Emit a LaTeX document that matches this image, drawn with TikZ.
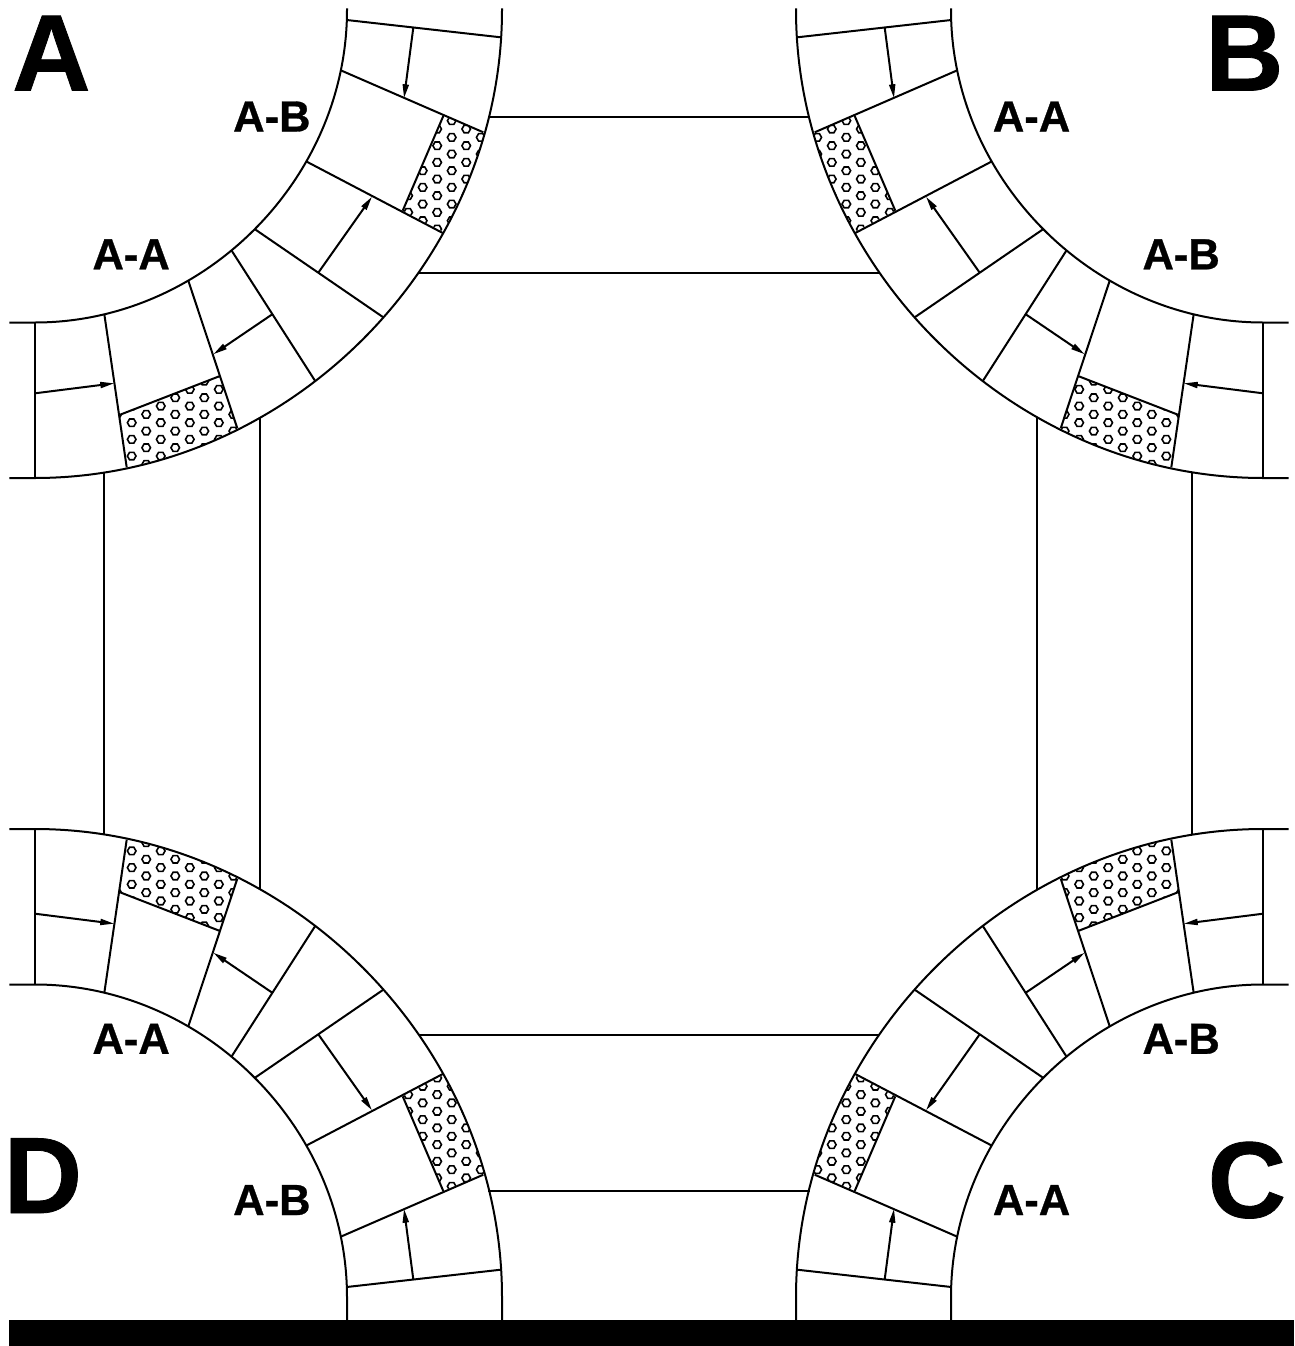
\documentclass[tikz,border=0pt]{standalone}
\usepackage{fontspec}
\setmainfont{Liberation Sans}
\newfontfamily\lblfont[BoldFeatures={FakeBold=0.7}]{Liberation Sans}
\usetikzlibrary{arrows.meta}
\tikzset{
  wire/.style={line width=2pt,line cap=butt,line join=miter},
  hexline/.style={line width=1.6pt,line join=miter},
  pointer/.style={wire,-{Triangle[length=14pt,width=6pt]}},
  biglabel/.style={font=\lblfont\bfseries\fontsize{108.5}{108.5}\selectfont,inner sep=0pt,anchor=base west},
  smalllabel/.style={font=\lblfont\bfseries\fontsize{43.5}{43.5}\selectfont,inner sep=0pt,anchor=base west}
}
% hexagon lattice: #1,#2 = anchor, #3,#4 = ranges of column and row
\newcommand{\hexfield}[4]{%
  \foreach \i in {#3}{\foreach \j in {#4}{%
    \pgfmathsetmacro{\hx}{#1+\i*14.52}%
    \pgfmathsetmacro{\hy}{#2+\j*16.67+(mod(abs(\i),2)==1?8.33:0)}%
    \draw[hexline,shift={(\hx,\hy)}] (4.3,0)--(2.15,3.72)--(-2.15,3.72)--(-4.3,0)--(-2.15,-3.72)--(2.15,-3.72)--cycle;
  }}}
% one corner, drawn as corner A; #1 = transform, #2 = y where the arcs end above the centre
\newcommand{\cornerpiece}[2]{%
\begin{scope}[#1]
  % hatched blocks
  \begin{scope}
    \clip (35,10)--(502,10) .. controls (502,263.2) and (287.6,478) .. (35,478)--cycle;
    \begin{scope}
      \clip (443.3,116)--(523.3,149.6)--(523.3,274)--(402.7,210.7)--cycle;
      \hexfield{451.7}{120.7}{-5,...,4}{-1,...,8}
    \end{scope}
    \begin{scope}
      \clip (220,376)--(119.3,415)--(132,510)--(250,470)--cycle;
      \hexfield{131.7}{422.7}{-1,...,8}{-4,...,3}
    \end{scope}
  \end{scope}
  % arcs
  \draw[wire] (502,#2)--(502,10) .. controls (502,263.2) and (287.6,478) .. (35,478)--(9.3,478);
  \draw[wire] (347,#2)--(347,10) .. controls (347,179) and (203.8,322.5) .. (35,322.5)--(9.3,322.5);
  % radial joints
  \draw[wire] (346.7,20)--(500.7,37.3);
  \draw[wire] (340.7,70.3)--(483.3,132.3);
  \draw[wire] (306,161.3)--(443.3,233.3);
  \draw[wire] (255,229.3)--(383.3,317.3);
  \draw[wire] (231.7,250.7)--(315,380.7);
  \draw[wire] (188.3,280.7)--(237.3,428.3);
  \draw[wire] (104.3,314)--(126.7,467.3);
  \draw[wire] (35,322.5)--(35,478);
  % hatch borders
  \draw[wire] (443.3,116)--(402.7,210.7);
  \draw[wire] (220,376)--(119.3,415);
  % arrows
  \draw[pointer] (413.3,27.7)--(404,98.3);
  \draw[pointer] (318.3,272.7)--(372,196.7);
  \draw[pointer] (272.7,314)--(213.3,354.3);
  \draw[pointer] (35,393.3)--(114.3,383.3);
\end{scope}}
\begin{document}
\begin{tikzpicture}[x=1pt,y=-1pt]
  \useasboundingbox (0,0) rectangle (1294,1346);
  \fill[white] (0,0) rectangle (1294,1346);
  \cornerpiece{}{8.3}
  \cornerpiece{shift={(1298,0)},xscale=-1}{8.3}
  \cornerpiece{shift={(0,1307)},yscale=-1}{-13}
  \cornerpiece{shift={(1298,1307)},xscale=-1,yscale=-1}{-13}
  % straight sides
  \draw[wire] (488.3,117.3)--(809.7,117.3);
  \draw[wire] (419,272.7)--(879,272.7);
  \draw[wire] (488.3,1191)--(809.7,1191);
  \draw[wire] (419,1035)--(879,1035);
  \draw[wire] (104.3,472)--(104.3,835);
  \draw[wire] (259.7,418)--(259.7,889);
  \draw[wire] (1191.7,472)--(1191.7,835);
  \draw[wire] (1036.7,418)--(1036.7,889);
  % base bar
  \fill[black] (9,1320) rectangle (1294,1346);
  % labels
  \node[biglabel] (lA) at (12,90.5) {A};
  \node[biglabel] (lB) at (1205,90.5) {B};
  \node[biglabel] (lC) at (1207.5,1217.5) {C};
  \node[biglabel] (lD) at (3.5,1213) {D};
  \node[smalllabel] (ab1) at (233,131.5) {A-B};
  \node[smalllabel] (aa1) at (92.3,269.3) {A-A};
  \node[smalllabel] (aa2) at (992.7,131.5) {A-A};
  \node[smalllabel] (ab2) at (1142.3,269.3) {A-B};
  \node[smalllabel] (aa3) at (92.3,1053.8) {A-A};
  \node[smalllabel] (ab3) at (233,1215) {A-B};
  \node[smalllabel] (ab4) at (1142.3,1053.8) {A-B};
  \node[smalllabel] (aa4) at (992.7,1215) {A-A};
\end{tikzpicture}
\end{document}
